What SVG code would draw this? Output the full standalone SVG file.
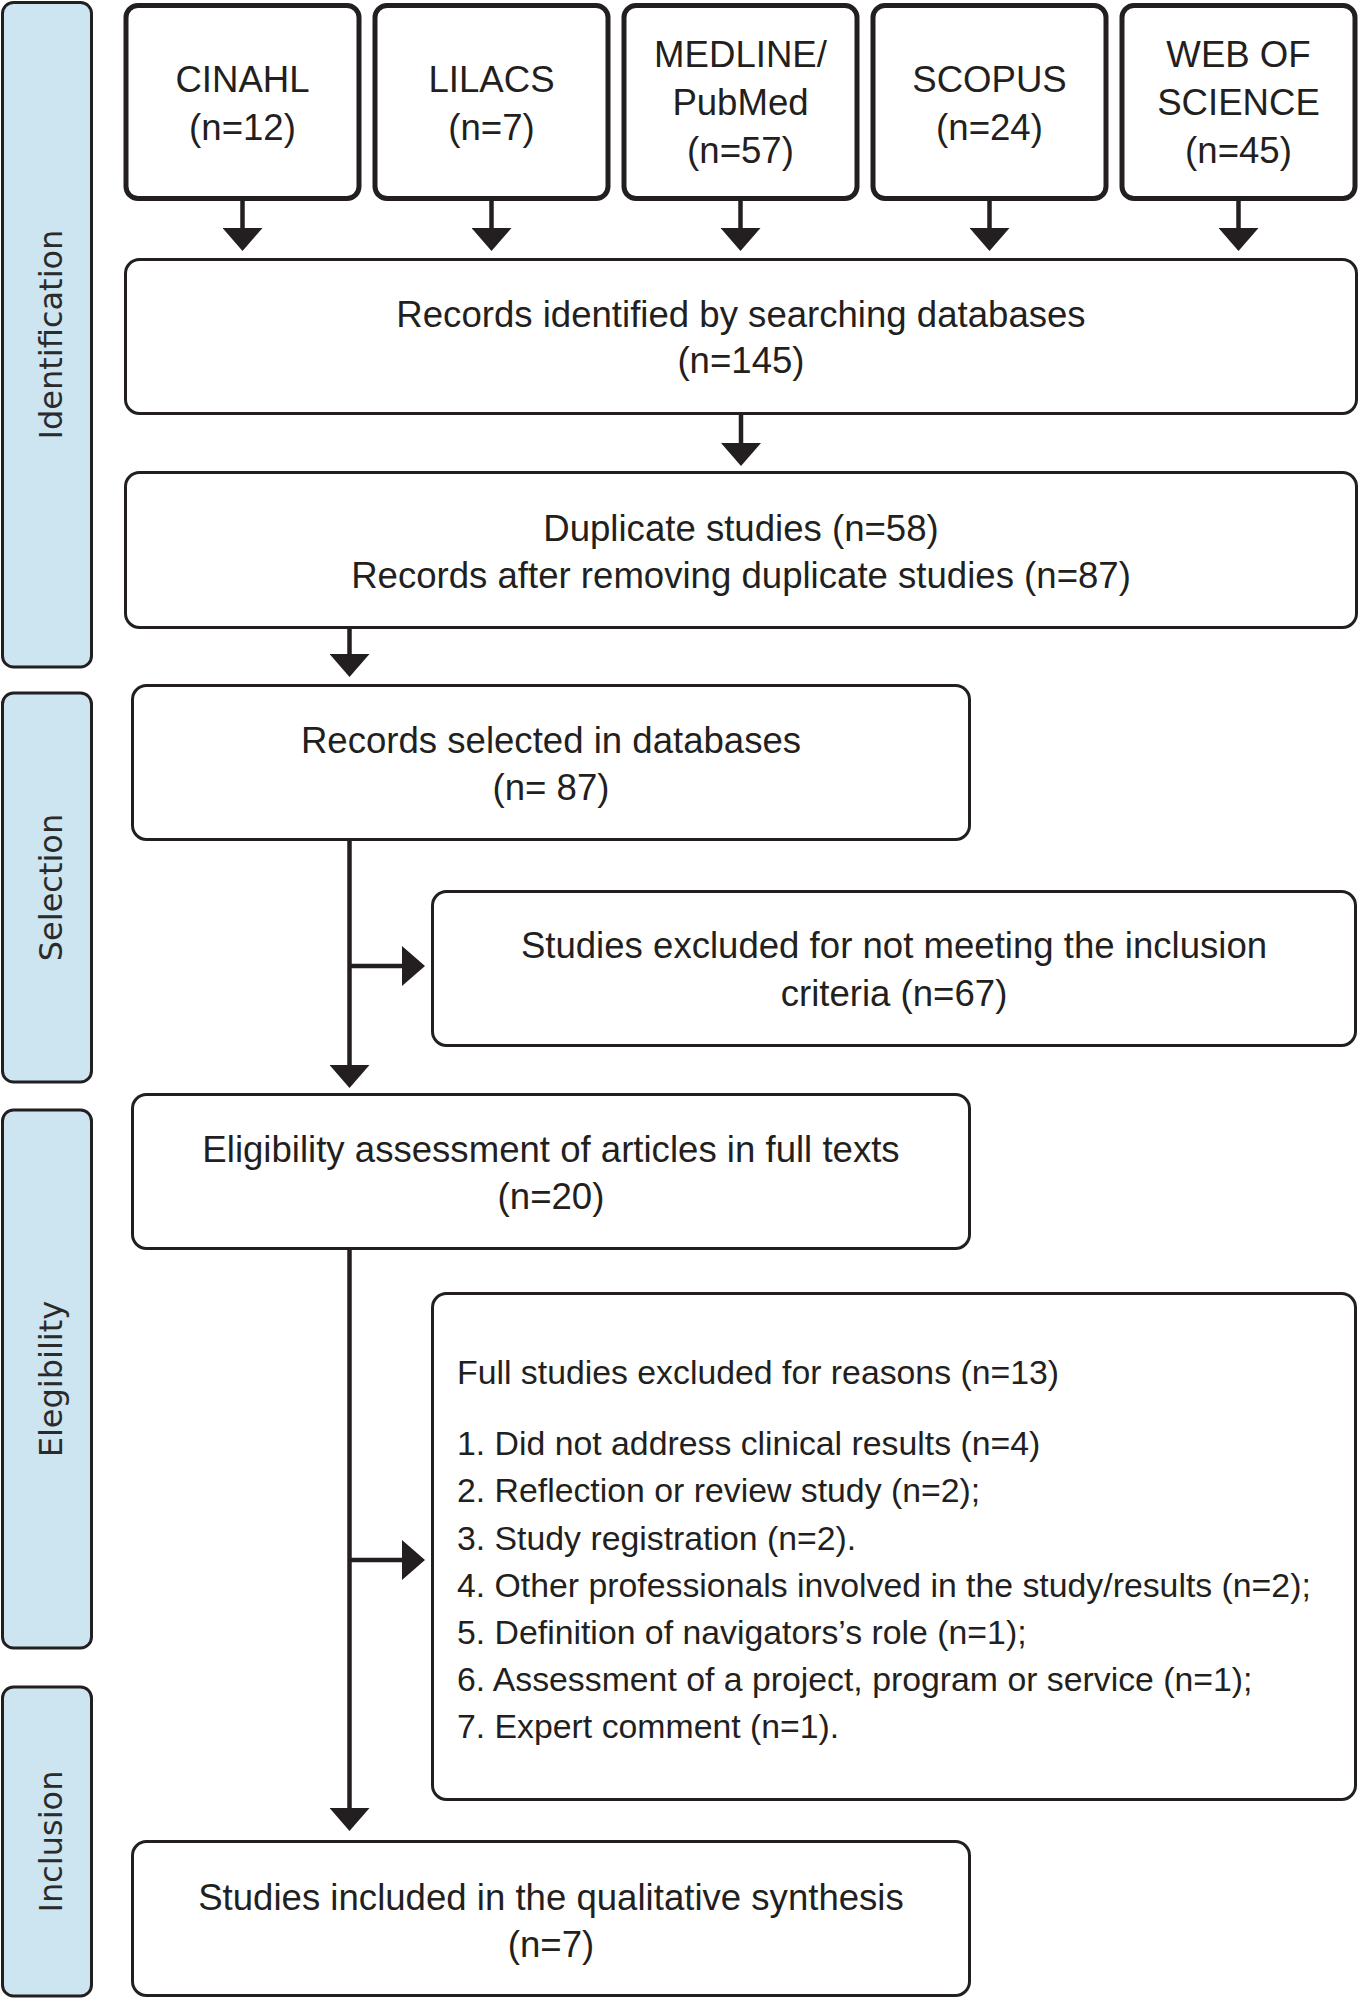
<svg xmlns="http://www.w3.org/2000/svg" width="1360" height="2000" viewBox="0 0 1360 2000">
  <style>
    .band { fill: #cde4f1; stroke: #231f20; stroke-width: 3; }
    .blabel { font-family: "DejaVu Sans", Verdana, sans-serif; font-size: 32px; fill: #2b2b2b; text-anchor: middle; }
    .db { fill: #ffffff; stroke: #231f20; stroke-width: 5; }
    .box { fill: #ffffff; stroke: #231f20; stroke-width: 3; }
    .t { font-family: "Liberation Sans", Arial, sans-serif; font-size: 36.6px; fill: #231f20; text-anchor: middle; }
    .list { font-family: "Liberation Sans", Arial, sans-serif; font-size: 33.8px; fill: #231f20; }
    .conn { stroke: #231f20; stroke-width: 4.5; fill: none; marker-end: url(#ah); }
  </style>
  <defs>
    <marker id="ah" viewBox="0 0 23 40" refX="0" refY="20" markerWidth="23" markerHeight="40" markerUnits="userSpaceOnUse" orient="auto">
      <path d="M0,0 L23,20 L0,40 Z" fill="#231f20"/>
    </marker>
  </defs>

  <g id="phase-identification">
    <rect class="band" x="2.5" y="2.5" width="89" height="664.5" rx="11"/>
    <text class="blabel" transform="translate(62,334.5) rotate(-90)">Identification</text>
  </g>
  <g id="phase-selection">
    <rect class="band" x="2.5" y="693" width="89" height="389" rx="11"/>
    <text class="blabel" transform="translate(62,887.5) rotate(-90)">Selection</text>
  </g>
  <g id="phase-elegibility">
    <rect class="band" x="2.5" y="1110" width="89" height="538" rx="11"/>
    <text class="blabel" transform="translate(62,1379) rotate(-90)">Elegibility</text>
  </g>
  <g id="phase-inclusion">
    <rect class="band" x="2.5" y="1687" width="89" height="309" rx="11"/>
    <text class="blabel" transform="translate(62,1841.5) rotate(-90)">Inclusion</text>
  </g>

  <g id="db-cinahl">
    <rect class="db" x="126" y="5.5" width="233" height="193" rx="12"/>
    <text class="t" x="242.5" y="92">CINAHL</text>
    <text class="t" x="242.5" y="140">(n=12)</text>
  </g>
  <g id="db-lilacs">
    <rect class="db" x="375" y="5.5" width="233" height="193" rx="12"/>
    <text class="t" x="491.5" y="92">LILACS</text>
    <text class="t" x="491.5" y="140">(n=7)</text>
  </g>
  <g id="db-medline">
    <rect class="db" x="624" y="5.5" width="233" height="193" rx="12"/>
    <text class="t" x="740.5" y="67">MEDLINE/</text>
    <text class="t" x="740.5" y="115">PubMed</text>
    <text class="t" x="740.5" y="163">(n=57)</text>
  </g>
  <g id="db-scopus">
    <rect class="db" x="873" y="5.5" width="233" height="193" rx="12"/>
    <text class="t" x="989.5" y="92">SCOPUS</text>
    <text class="t" x="989.5" y="140">(n=24)</text>
  </g>
  <g id="db-wos">
    <rect class="db" x="1122" y="5.5" width="233" height="193" rx="12"/>
    <text class="t" x="1238.5" y="67">WEB OF</text>
    <text class="t" x="1238.5" y="115">SCIENCE</text>
    <text class="t" x="1238.5" y="163">(n=45)</text>
  </g>

  <g id="records-identified">
    <rect class="box" x="125.5" y="259.5" width="1231" height="154" rx="14"/>
    <text class="t" x="741" y="327">Records identified by searching databases</text>
    <text class="t" x="741" y="373">(n=145)</text>
  </g>
  <g id="duplicates">
    <rect class="box" x="125.5" y="472.5" width="1231" height="155" rx="14"/>
    <text class="t" x="741" y="541">Duplicate studies (n=58)</text>
    <text class="t" x="741" y="588">Records after removing duplicate studies (n=87)</text>
  </g>
  <g id="records-selected">
    <rect class="box" x="132.5" y="685.5" width="837" height="154" rx="14"/>
    <text class="t" x="551" y="753">Records selected in databases</text>
    <text class="t" x="551" y="800">(n= 87)</text>
  </g>
  <g id="excluded-criteria">
    <rect class="box" x="432.5" y="891.5" width="923" height="154" rx="14"/>
    <text class="t" x="894" y="958">Studies excluded for not meeting the inclusion</text>
    <text class="t" x="894" y="1006">criteria (n=67)</text>
  </g>
  <g id="eligibility">
    <rect class="box" x="132.5" y="1094.5" width="837" height="154" rx="14"/>
    <text class="t" x="551" y="1162">Eligibility assessment of articles in full texts</text>
    <text class="t" x="551" y="1209">(n=20)</text>
  </g>
  <g id="excluded-full">
    <rect class="box" x="432.5" y="1293.5" width="923" height="506" rx="14"/>
    <text class="list" x="457" y="1384">Full studies excluded for reasons (n=13)</text>
    <text class="list" x="457" y="1455">1. Did not address clinical results (n=4)</text>
    <text class="list" x="457" y="1502">2. Reflection or review study (n=2);</text>
    <text class="list" x="457" y="1550">3. Study registration (n=2).</text>
    <text class="list" x="457" y="1597">4. Other professionals involved in the study/results (n=2);</text>
    <text class="list" x="457" y="1644">5. Definition of navigators’s role (n=1);</text>
    <text class="list" x="457" y="1691">6. Assessment of a project, program or service (n=1);</text>
    <text class="list" x="457" y="1738">7. Expert comment (n=1).</text>
  </g>
  <g id="included">
    <rect class="box" x="132.5" y="1841.5" width="837" height="154" rx="14"/>
    <text class="t" x="551" y="1910">Studies included in the qualitative synthesis</text>
    <text class="t" x="551" y="1957">(n=7)</text>
  </g>

  <g id="connectors">
    <line class="conn" x1="242.5" y1="201" x2="242.5" y2="228"/>
    <line class="conn" x1="491.5" y1="201" x2="491.5" y2="228"/>
    <line class="conn" x1="740.5" y1="201" x2="740.5" y2="228"/>
    <line class="conn" x1="989.5" y1="201" x2="989.5" y2="228"/>
    <line class="conn" x1="1238.5" y1="201" x2="1238.5" y2="228"/>
    <line class="conn" x1="741" y1="415" x2="741" y2="443"/>
    <line class="conn" x1="349.5" y1="629" x2="349.5" y2="654"/>
    <line class="conn" x1="349.5" y1="841" x2="349.5" y2="1065"/>
    <line class="conn" x1="349.5" y1="966" x2="402" y2="966"/>
    <line class="conn" x1="349.5" y1="1250" x2="349.5" y2="1808"/>
    <line class="conn" x1="349.5" y1="1560" x2="402" y2="1560"/>
  </g>
</svg>
